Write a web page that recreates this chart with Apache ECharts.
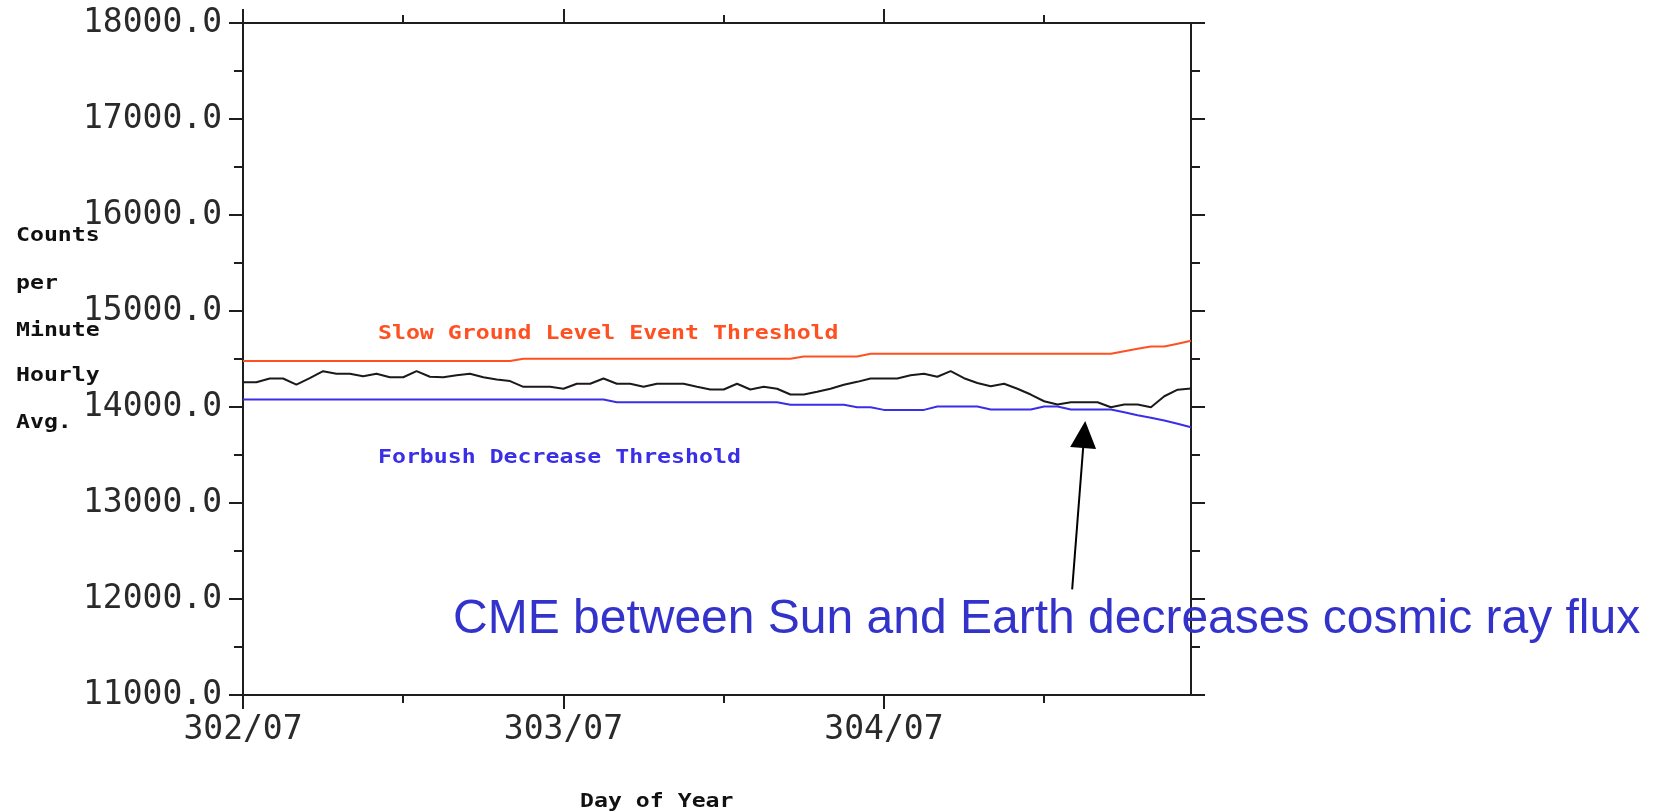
<!DOCTYPE html>
<html>
<head>
<meta charset="utf-8">
<script src="https://cdn.jsdelivr.net/npm/echarts@6/dist/echarts.min.js"></script>
<style>
html,body{margin:0;padding:0;background:#fff;}
#chart{width:1660px;height:812px;}
</style>
</head>
<body>
<div id="chart"></div>
<script>
// Hour offsets from 302/07 (hourly averages)
const dayLabels = ['302/07', '303/07', '304/07'];
const majorTicks = [0, 24, 48];
const minorTicks = [12, 36, 60];
const yTicksMin = 11000, yTicksMax = 18000, yStep = 1000;

// Neutron monitor counts per minute (hourly avg), hours 0..71
const counts = [
  14258, 14258, 14297, 14297, 14234, 14300, 14373, 14346, 14346, 14320, 14346, 14310,
  14310, 14373, 14315, 14310, 14330, 14346, 14310, 14286, 14270, 14210, 14210, 14210,
  14190, 14242, 14242, 14297, 14242, 14242, 14210, 14242, 14242, 14242, 14210, 14182,
  14182, 14242, 14182, 14210, 14190, 14130, 14130, 14158, 14190, 14232, 14262, 14297,
  14297, 14297, 14330, 14346, 14315, 14373, 14300, 14250, 14217, 14242, 14190, 14130,
  14060, 14026, 14050, 14050, 14050, 13998, 14026, 14026, 13998, 14112, 14180, 14193
];
// Slow Ground Level Event threshold
const sgleThreshold = [
  14480, 14480, 14480, 14480, 14480, 14480, 14480, 14480, 14480, 14480, 14480, 14480,
  14480, 14480, 14480, 14480, 14480, 14480, 14480, 14480, 14480, 14502, 14502, 14502,
  14502, 14502, 14502, 14502, 14502, 14502, 14502, 14502, 14502, 14502, 14502, 14502,
  14502, 14502, 14502, 14502, 14502, 14502, 14526, 14526, 14526, 14526, 14526, 14554,
  14554, 14554, 14554, 14554, 14554, 14554, 14554, 14554, 14554, 14554, 14554, 14554,
  14554, 14554, 14554, 14554, 14554, 14554, 14581, 14606, 14630, 14630, 14658, 14690
];
// Forbush Decrease threshold
const forbushThreshold = [
  14078, 14078, 14078, 14078, 14078, 14078, 14078, 14078, 14078, 14078, 14078, 14078,
  14078, 14078, 14078, 14078, 14078, 14078, 14078, 14078, 14078, 14078, 14078, 14078,
  14078, 14078, 14078, 14078, 14050, 14050, 14050, 14050, 14050, 14050, 14050, 14050,
  14050, 14050, 14050, 14050, 14050, 14023, 14023, 14023, 14023, 14023, 13998, 13998,
  13970, 13970, 13970, 13970, 14005, 14005, 14005, 14005, 13974, 13974, 13974, 13974,
  14005, 14005, 13974, 13974, 13974, 13974, 13946, 13915, 13888, 13860, 13825, 13790
];
// Annotation arrow: tail and head (hour, counts)
const arrowTail = [62.1, 12100];
const arrowHead = [63.0, 13714];

const hourMax = 71;
const axisColor = '#1e1e1e';
const pixFont = 'bold 19px "DejaVu Sans Mono"';

function pair(arr) { return arr.map((v, i) => [i, v]); }

function xAxisDef(position, ticks, len, showLine, showLabel) {
  return {
    type: 'value', min: 0, max: hourMax, interval: 12, position: position,
    axisLine: { show: showLine, onZero: false, lineStyle: { color: axisColor, width: 2 } },
    axisTick: { show: true, length: len, customValues: ticks, lineStyle: { color: axisColor, width: 2 } },
    axisLabel: showLabel ? {
      show: true, customValues: majorTicks, margin: 19,
      formatter: v => dayLabels[Math.round(v / 24)] || '',
      fontFamily: 'DejaVu Sans Mono', fontSize: 33, color: '#2a2a2a'
    } : { show: false },
    splitLine: { show: false }
  };
}

function yAxisDef(position, showLabel) {
  return {
    type: 'value', min: yTicksMin, max: yTicksMax, interval: yStep, position: position,
    axisLine: { show: true, onZero: false, lineStyle: { color: axisColor, width: 2 } },
    axisTick: { show: true, length: 14, lineStyle: { color: axisColor, width: 2 } },
    minorTick: { show: true, splitNumber: 2, length: 9, lineStyle: { color: axisColor, width: 2 } },
    minorSplitLine: { show: false },
    axisLabel: showLabel ? {
      show: true, margin: 21, formatter: v => v.toFixed(1),
      fontFamily: 'DejaVu Sans Mono', fontSize: 33, color: '#2a2a2a'
    } : { show: false },
    splitLine: { show: false }
  };
}

const chart = echarts.init(document.getElementById('chart'), null, { renderer: 'canvas' });
const yTitle = ['Counts', 'per', 'Minute', 'Hourly', 'Avg.'];
const yTitleY = [236, 284, 331, 376, 423];

chart.setOption({
  animation: false,
  backgroundColor: '#ffffff',
  grid: { left: 243, right: 469, top: 23, bottom: 117, containLabel: false },
  xAxis: [
    xAxisDef('bottom', majorTicks, 14, true, true),
    xAxisDef('bottom', minorTicks, 8, false, false),
    xAxisDef('top', majorTicks, 14, true, false),
    xAxisDef('top', minorTicks, 8, false, false)
  ],
  yAxis: [yAxisDef('left', true), yAxisDef('right', false)],
  series: [
    {
      name: 'Slow Ground Level Event Threshold', type: 'line', data: pair(sgleThreshold),
      showSymbol: false, symbol: 'none', lineStyle: { color: '#ff5022', width: 2 }, z: 2
    },
    {
      name: 'Forbush Decrease Threshold', type: 'line', data: pair(forbushThreshold),
      showSymbol: false, symbol: 'none', lineStyle: { color: '#3a2ee6', width: 2 }, z: 2
    },
    {
      name: 'Counts', type: 'line', data: pair(counts),
      showSymbol: false, symbol: 'none', lineStyle: { color: '#1a1a1a', width: 2 }, z: 3,
      markLine: {
        silent: true, animation: false,
        symbol: ['none', 'triangle'], symbolSize: [26, 27],
        lineStyle: { color: '#000', width: 2, type: 'solid' },
        itemStyle: { color: '#000' },
        label: { show: false },
        emphasis: { disabled: true },
        data: [[{ coord: arrowTail }, { coord: arrowHead }]]
      }
    }
  ],
  graphic: [
    ...yTitle.map((t, i) => ({
      type: 'text', x: 16, y: yTitleY[i], scaleX: 1.22,
      style: { text: t, font: pixFont, fill: '#111', verticalAlign: 'middle', align: 'left' }
    })),
    {
      type: 'text', x: 378, y: 334, scaleX: 1.22,
      style: { text: 'Slow Ground Level Event Threshold', font: pixFont, fill: '#ff5022', verticalAlign: 'middle', align: 'left' }
    },
    {
      type: 'text', x: 378, y: 458, scaleX: 1.22,
      style: { text: 'Forbush Decrease Threshold', font: pixFont, fill: '#3a2ee6', verticalAlign: 'middle', align: 'left' }
    },
    {
      type: 'text', x: 580, y: 802, scaleX: 1.22,
      style: { text: 'Day of Year', font: pixFont, fill: '#111', verticalAlign: 'middle', align: 'left' }
    },
    {
      type: 'text', x: 453, y: 620, z: 100,
      style: { text: 'CME between Sun and Earth decreases cosmic ray flux', font: '48px "Liberation Sans", Arial', fill: '#3333cc', verticalAlign: 'middle', align: 'left' }
    }
  ]
});
</script>
</body>
</html>
